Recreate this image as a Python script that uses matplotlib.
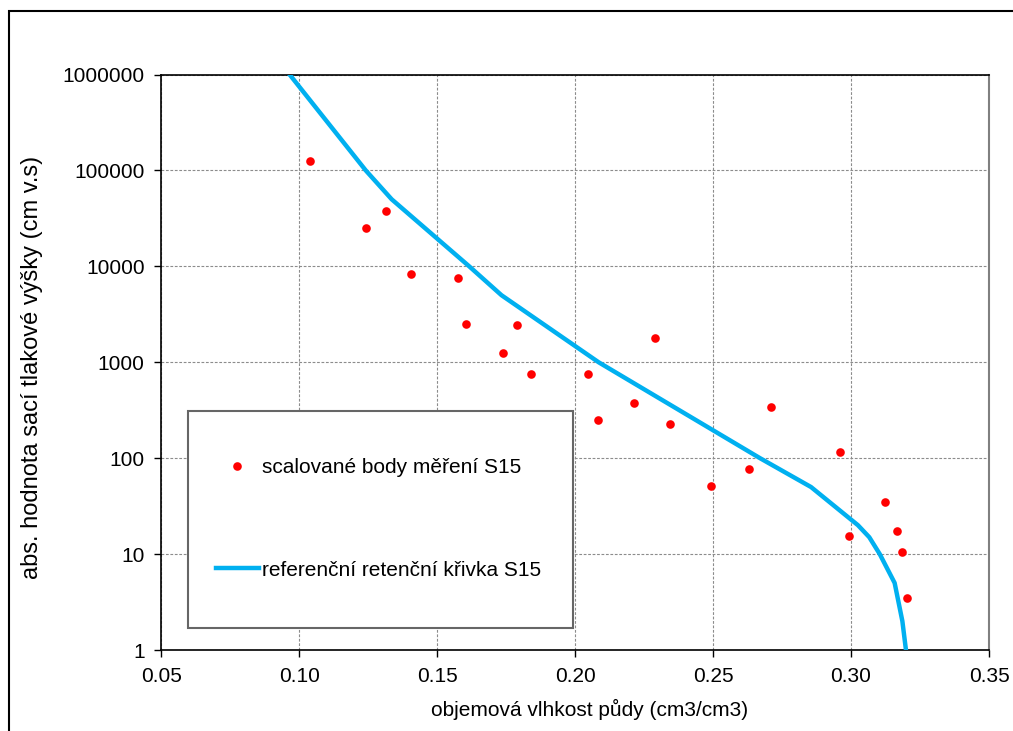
import matplotlib
matplotlib.use("Agg")
import matplotlib.pyplot as plt
from matplotlib.patches import Rectangle
from matplotlib.lines import Line2D
from matplotlib.ticker import FixedLocator, FixedFormatter, NullLocator

plt.rcParams['font.family'] = ['Liberation Sans', 'DejaVu Sans']

# measured points (scaled)
theta_pts = [0.1039, 0.1241, 0.1314, 0.1404, 0.1576, 0.1605, 0.1789, 0.1737,
             0.1841, 0.2046, 0.2291, 0.2082, 0.2215, 0.2343, 0.2491, 0.2629,
             0.2710, 0.2960, 0.2993, 0.3122, 0.3166, 0.3184, 0.3202]
h_pts = [124000, 25000, 37700, 8400, 7550, 2530, 2470, 1250,
         750, 750, 1770, 253, 380, 228, 51, 77,
         345, 116, 15.4, 35, 17.4, 10.4, 3.5]

# reference retention curve
theta_curve = [0.0965, 0.1241, 0.1335, 0.1616, 0.1733, 0.2085, 0.2670,
               0.2855, 0.3025, 0.3066, 0.3104, 0.3158, 0.3186, 0.3199]
h_curve = [1e6, 1e5, 5e4, 1e4, 5e3, 1e3, 100, 50, 20, 15, 10, 5, 2, 1]

x_ticks = [0.05, 0.10, 0.15, 0.20, 0.25, 0.30, 0.35]
y_ticks = [1, 10, 100, 1000, 10000, 100000, 1000000]
y_tick_labels = ["1", "10", "100", "1000", "10000", "100000", "1000000"]

label_pts = "scalované body měření S15"
label_curve = "referenční retenční křivka S15"
xlabel = "objemová vlhkost půdy (cm3/cm3)"
ylabel = "abs. hodnota sací tlakové výšky (cm v.s)"

W, H = 1013, 731
fig = plt.figure(figsize=(W / 100, H / 100), dpi=100)
L, R, T, B = 161.3, 989.0, 74.5, 650.0
ax = fig.add_axes([L / W, 1 - B / H, (R - L) / W, (B - T) / H])

FS = 15

ax.set_yscale('log')
ax.set_xlim(0.05, 0.35)
ax.set_ylim(1, 1e6)

ax.grid(True, which='major', color='#8c8c8c', linestyle=(0, (2.5, 1.5)), linewidth=0.8)
ax.set_axisbelow(True)

ax.xaxis.set_major_locator(FixedLocator(x_ticks))
ax.xaxis.set_major_formatter(FixedFormatter([f"{v:.2f}" for v in x_ticks]))
ax.yaxis.set_major_locator(FixedLocator(y_ticks))
ax.yaxis.set_major_formatter(FixedFormatter(y_tick_labels))
ax.yaxis.set_minor_locator(NullLocator())
ax.tick_params(axis='both', which='major', direction='out', length=5, width=1,
               labelsize=FS, pad=7, colors='black')

for side in ['left', 'bottom', 'top']:
    ax.spines[side].set_color('black')
    ax.spines[side].set_linewidth(1.2)
ax.spines['right'].set_color('#808080')
ax.spines['right'].set_linewidth(1.5)

ax.plot(theta_curve, h_curve, color='#00B0F0', linewidth=3.2, zorder=3,
        solid_joinstyle='round', clip_on=True)
ax.plot(theta_pts, h_pts, linestyle='none', marker='o', markersize=6.2,
        color='#FF0000', markeredgewidth=0, zorder=4)

ax.set_xlabel(xlabel, fontsize=FS)
ax.set_ylabel(ylabel, fontsize=17.0)
ax.xaxis.set_label_coords((590 - L) / (R - L), (B - 699) / (B - T))
ax.yaxis.set_label_coords((43 - L) / (R - L), (B - 367) / (B - T))

# legend box
bx0, bx1, by0, by1 = 188.0, 573.3, 411.0, 627.7
box = Rectangle(((bx0 - L) / (R - L), (B - by1) / (B - T)),
                (bx1 - bx0) / (R - L), (by1 - by0) / (B - T),
                transform=ax.transAxes, facecolor='white', edgecolor='#666666',
                linewidth=1.5, zorder=5)
ax.add_patch(box)

handles = [Line2D([], [], linestyle='none', marker='o', markersize=6.2,
                  color='#FF0000', markeredgewidth=0),
           Line2D([], [], color='#00B0F0', linewidth=3.2)]
leg = ax.legend(handles, [label_pts, label_curve], loc='center left',
                bbox_to_anchor=((216 - L) / (R - L), (B - 519) / (B - T)),
                frameon=False, fontsize=FS, borderpad=0, borderaxespad=0,
                handlelength=2.05, handletextpad=0.15, labelspacing=4.0)
leg.set_zorder(6)

# outer chart-area frame
frame = Rectangle((8.5 / W, -0.1), 1.2, 1 - 10.5 / H + 0.1,
                  transform=fig.transFigure, facecolor='none',
                  edgecolor='black', linewidth=1.5, clip_on=False)
fig.patches.append(frame)

fig.savefig("out.png", dpi=100)
